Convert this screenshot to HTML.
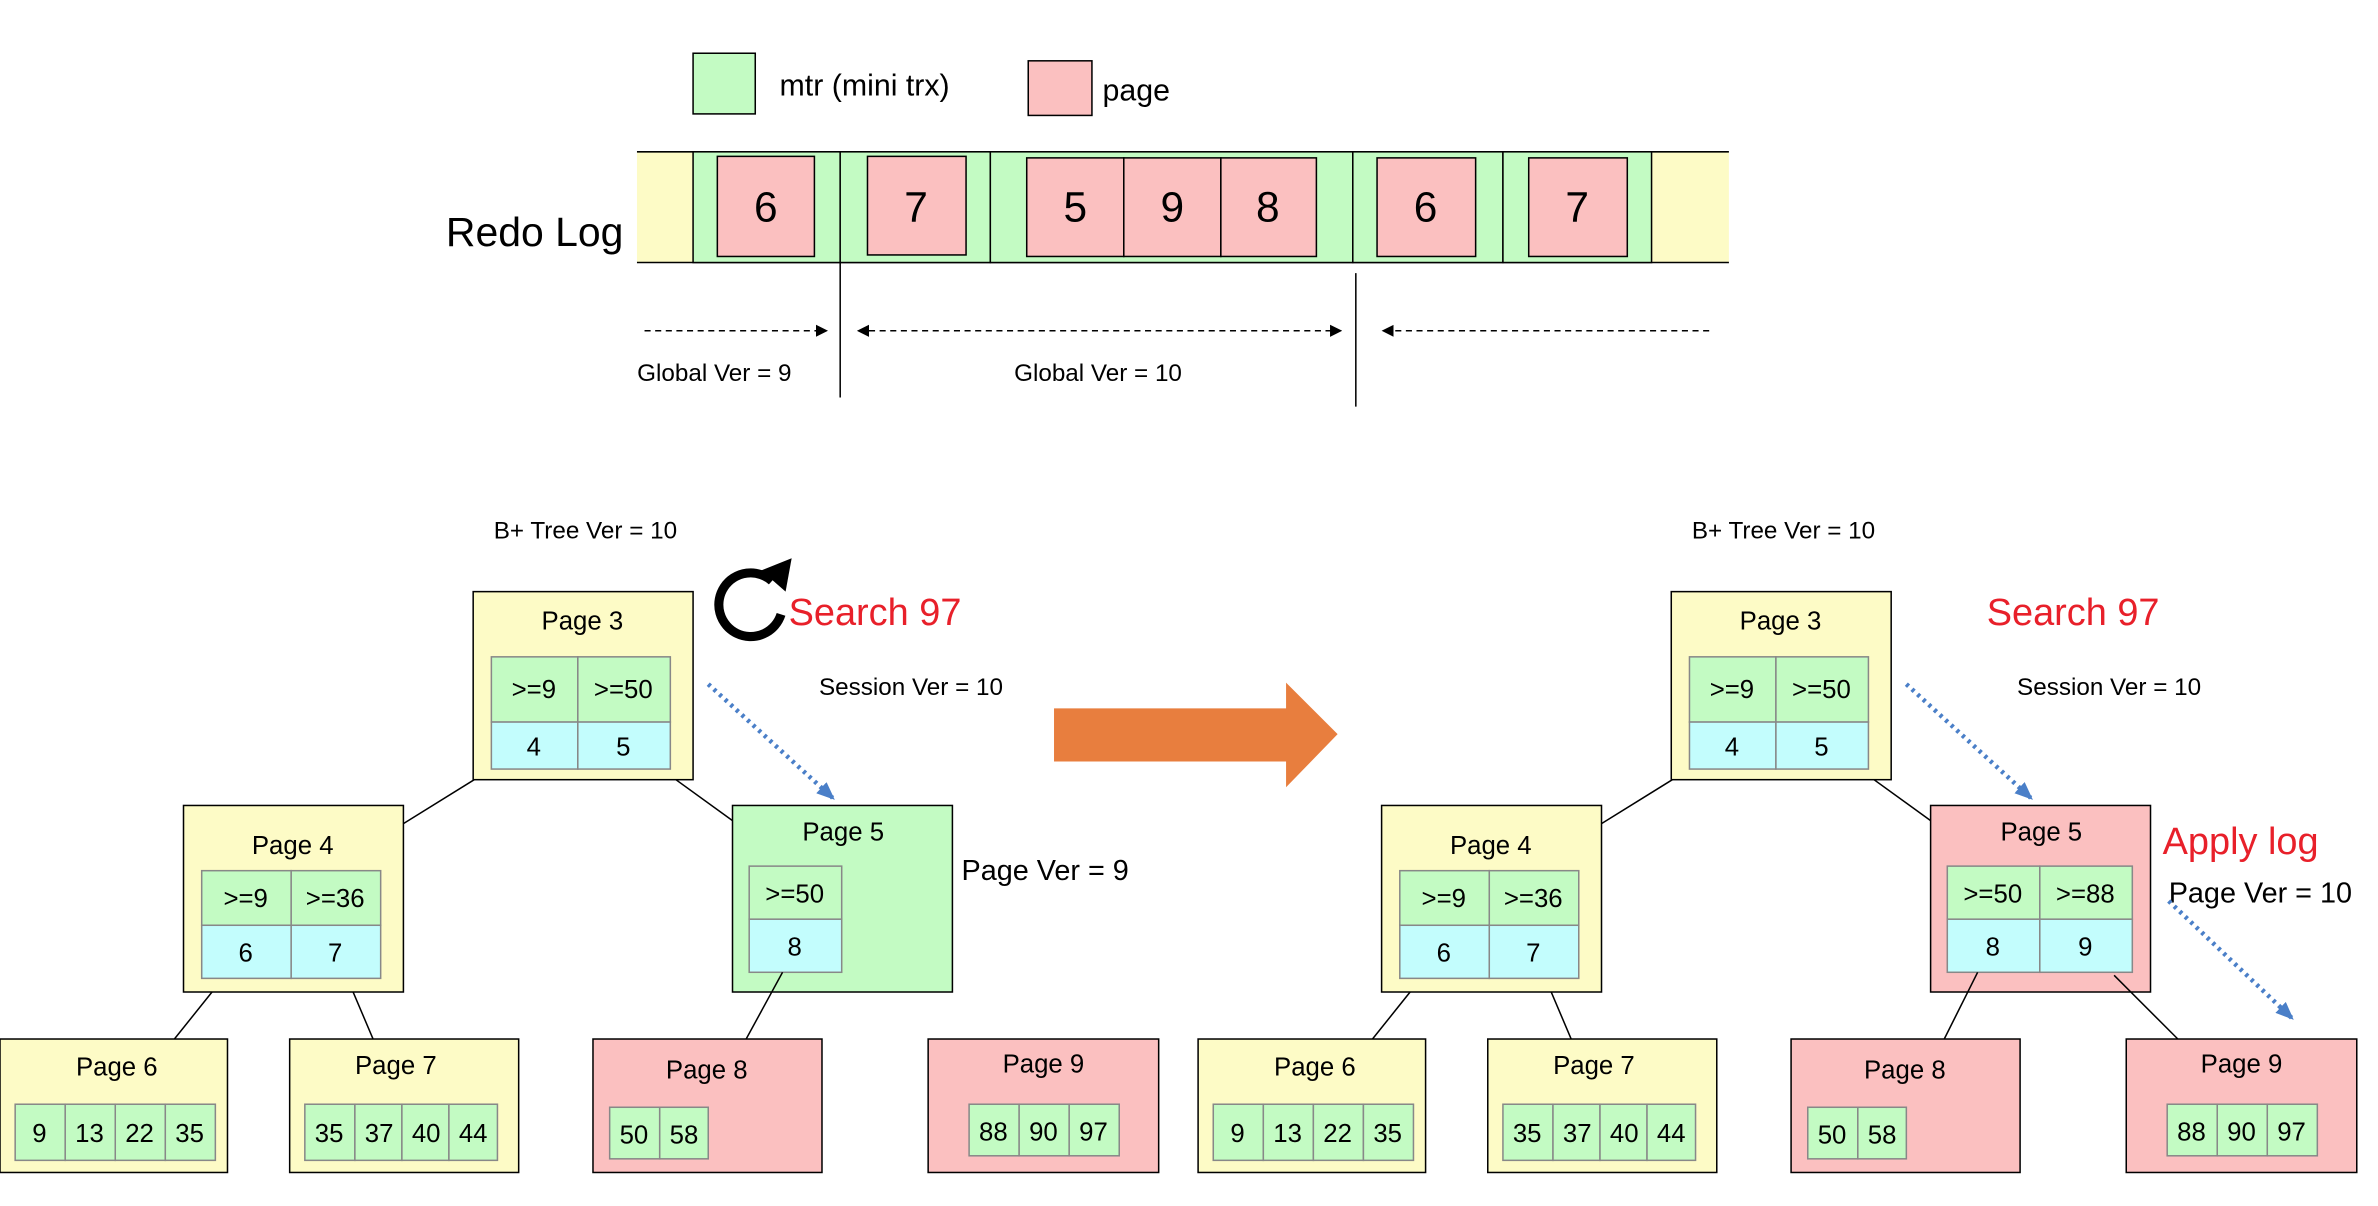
<!DOCTYPE html>
<html><head><meta charset="utf-8"><style>html,body{margin:0;padding:0;background:#fff}svg{display:block}text{font-family:"Liberation Sans",Arial,sans-serif}</style></head><body>
<svg width="2378" height="1206" viewBox="0 0 1568 795" xmlns="http://www.w3.org/2000/svg">
<defs>
<marker id="ah" markerWidth="8" markerHeight="8" refX="7" refY="4" orient="auto-start-reverse" markerUnits="userSpaceOnUse"><path d="M0,0 L8,4 L0,8 Z" fill="#000"/></marker>
<marker id="bh" markerWidth="12" markerHeight="10" refX="10" refY="5" orient="auto" markerUnits="userSpaceOnUse"><path d="M0,0 L12,5 L0,10 Z" fill="#4a7fc8"/></marker>
<g id="tree">
<text x="386" y="355" font-size="16" text-anchor="middle">B+ Tree Ver = 10</text>
<line x1="324" y1="507" x2="266" y2="543" stroke="#000"/>
<line x1="436" y1="507" x2="483" y2="541" stroke="#000"/>
<line x1="147" y1="645" x2="115" y2="685" stroke="#000"/>
<line x1="229" y1="645" x2="246" y2="685" stroke="#000"/>
<rect x="312" y="390" width="145" height="124" fill="#fdfbc6" stroke="#000"/>
<text x="384" y="415" font-size="17" text-anchor="middle">Page 3</text>
<rect x="324" y="433" width="57" height="43" fill="#c3fbc3" stroke="#888"/><rect x="381" y="433" width="61" height="43" fill="#c3fbc3" stroke="#888"/>
<rect x="324" y="476" width="57" height="31" fill="#c3fdfd" stroke="#888"/><rect x="381" y="476" width="61" height="31" fill="#c3fdfd" stroke="#888"/>
<text x="352" y="460" font-size="17" text-anchor="middle">&gt;=9</text><text x="411" y="460" font-size="17" text-anchor="middle">&gt;=50</text>
<text x="352" y="498" font-size="17" text-anchor="middle">4</text><text x="411" y="498" font-size="17" text-anchor="middle">5</text>
<text x="540" y="458" font-size="16">Session Ver = 10</text>
<rect x="121" y="531" width="145" height="123" fill="#fdfbc6" stroke="#000"/>
<text x="193" y="563" font-size="17" text-anchor="middle">Page 4</text>
<rect x="133" y="574" width="59" height="36" fill="#c3fbc3" stroke="#888"/><rect x="192" y="574" width="59" height="36" fill="#c3fbc3" stroke="#888"/>
<rect x="133" y="610" width="59" height="35" fill="#c3fdfd" stroke="#888"/><rect x="192" y="610" width="59" height="35" fill="#c3fdfd" stroke="#888"/>
<text x="162" y="598" font-size="17" text-anchor="middle">&gt;=9</text><text x="221" y="598" font-size="17" text-anchor="middle">&gt;=36</text>
<text x="162" y="634" font-size="17" text-anchor="middle">6</text><text x="221" y="634" font-size="17" text-anchor="middle">7</text>
<rect x="0" y="685" width="150" height="88" fill="#fdfbc6" stroke="#000"/>
<text x="77" y="709" font-size="17" text-anchor="middle">Page 6</text>
<g font-size="17" text-anchor="middle">
<rect x="10" y="728" width="33" height="37" fill="#c3fbc3" stroke="#888"/><rect x="43" y="728" width="33" height="37" fill="#c3fbc3" stroke="#888"/><rect x="76" y="728" width="33" height="37" fill="#c3fbc3" stroke="#888"/><rect x="109" y="728" width="33" height="37" fill="#c3fbc3" stroke="#888"/>
<text x="26" y="753">9</text><text x="59" y="753">13</text><text x="92" y="753">22</text><text x="125" y="753">35</text>
</g>
<rect x="191" y="685" width="151" height="88" fill="#fdfbc6" stroke="#000"/>
<text x="261" y="708" font-size="17" text-anchor="middle">Page 7</text>
<g font-size="17" text-anchor="middle">
<rect x="201" y="728" width="33" height="37" fill="#c3fbc3" stroke="#888"/><rect x="234" y="728" width="31" height="37" fill="#c3fbc3" stroke="#888"/><rect x="265" y="728" width="31" height="37" fill="#c3fbc3" stroke="#888"/><rect x="296" y="728" width="32" height="37" fill="#c3fbc3" stroke="#888"/>
<text x="217" y="753">35</text><text x="250" y="753">37</text><text x="281" y="753">40</text><text x="312" y="753">44</text>
</g>
<rect x="391" y="685" width="151" height="88" fill="#fbc0c0" stroke="#000"/>
<text x="466" y="711" font-size="17" text-anchor="middle">Page 8</text>
<rect x="402" y="730" width="33" height="34" fill="#c3fbc3" stroke="#888"/><rect x="435" y="730" width="32" height="34" fill="#c3fbc3" stroke="#888"/>
<text x="418" y="754" font-size="17" text-anchor="middle">50</text><text x="451" y="754" font-size="17" text-anchor="middle">58</text>
<rect x="612" y="685" width="152" height="88" fill="#fbc0c0" stroke="#000"/>
<text x="688" y="707" font-size="17" text-anchor="middle">Page 9</text>
<rect x="639" y="728" width="33" height="34" fill="#c3fbc3" stroke="#888"/><rect x="672" y="728" width="33" height="34" fill="#c3fbc3" stroke="#888"/><rect x="705" y="728" width="33" height="34" fill="#c3fbc3" stroke="#888"/>
<text x="655" y="752" font-size="17" text-anchor="middle">88</text><text x="688" y="752" font-size="17" text-anchor="middle">90</text><text x="721" y="752" font-size="17" text-anchor="middle">97</text>
<line x1="467" y1="451" x2="549" y2="526" stroke="#4a7fc8" stroke-width="3" stroke-dasharray="2,3" marker-end="url(#bh)"/>
</g>
</defs>

<rect x="457" y="35" width="41" height="40" fill="#c3fbc3" stroke="#000"/>
<text x="514" y="63" font-size="20">mtr (mini trx)</text>
<rect x="678" y="40" width="42" height="36" fill="#fbc0c0" stroke="#000"/>
<text x="727" y="66" font-size="20">page</text>

<rect x="420" y="100" width="720" height="73" fill="#fdfbc6"/>
<line x1="420" y1="100" x2="1140" y2="100" stroke="#000"/><line x1="420" y1="173" x2="1140" y2="173" stroke="#000"/>
<g fill="#c3fbc3" stroke="#000">
<rect x="457" y="100" width="97" height="73"/><rect x="554" y="100" width="99" height="73"/><rect x="653" y="100" width="239" height="73"/><rect x="892" y="100" width="99" height="73"/><rect x="991" y="100" width="98" height="73"/>
</g>
<g fill="#fbc0c0" stroke="#000">
<rect x="473" y="103" width="64" height="66"/><rect x="572" y="103" width="65" height="65"/><rect x="677" y="104" width="64" height="65"/><rect x="741" y="104" width="64" height="65"/><rect x="805" y="104" width="63" height="65"/><rect x="908" y="104" width="65" height="65"/><rect x="1008" y="104" width="65" height="65"/>
</g>
<g font-size="28" text-anchor="middle">
<text x="505" y="146">6</text><text x="604" y="146">7</text><text x="709" y="146">5</text><text x="773" y="146">9</text><text x="836" y="146">8</text><text x="940" y="146">6</text><text x="1040" y="146">7</text>
</g>
<text x="294" y="162" font-size="27">Redo Log</text>
<line x1="554" y1="173" x2="554" y2="262" stroke="#000"/>
<line x1="894" y1="180" x2="894" y2="268" stroke="#000"/>
<g stroke="#000" stroke-dasharray="4,3">
<line x1="425" y1="218" x2="545" y2="218" marker-end="url(#ah)"/>
<line x1="566" y1="218" x2="884" y2="218" marker-end="url(#ah)" marker-start="url(#ah)"/>
<line x1="1127" y1="218" x2="912" y2="218" marker-end="url(#ah)"/>
</g>
<text x="471" y="251" font-size="16" text-anchor="middle">Global Ver = 9</text>
<text x="724" y="251" font-size="16" text-anchor="middle">Global Ver = 10</text>

<use href="#tree"/>
<rect x="483" y="531" width="145" height="123" fill="#c3fbc3" stroke="#000"/>
<text x="556" y="554" font-size="17" text-anchor="middle">Page 5</text>
<rect x="494" y="571" width="61" height="35" fill="#c3fbc3" stroke="#888"/>
<rect x="494" y="606" width="61" height="35" fill="#c3fdfd" stroke="#888"/>
<text x="524" y="595" font-size="17" text-anchor="middle">&gt;=50</text>
<text x="524" y="630" font-size="17" text-anchor="middle">8</text>
<line x1="516" y1="641" x2="492" y2="685" stroke="#000"/>
<text x="634" y="580" font-size="19">Page Ver = 9</text>
<path d="M 509 383 A 21 21 0 1 0 515 405" fill="none" stroke="#000" stroke-width="6"/>
<path d="M 502 376 L 522 368 L 518 390 Z" fill="#000"/>
<text x="520" y="412" font-size="25" fill="#e8202a">Search 97</text>

<path d="M695,467 L848,467 L848,450 L882,484 L848,519 L848,502 L695,502 Z" fill="#e87e3e"/>

<use href="#tree" transform="translate(790,0)"/>
<rect x="1273" y="531" width="145" height="123" fill="#fbc0c0" stroke="#000"/>
<text x="1346" y="554" font-size="17" text-anchor="middle">Page 5</text>
<rect x="1284" y="571" width="61" height="35" fill="#c3fbc3" stroke="#888"/><rect x="1345" y="571" width="61" height="35" fill="#c3fbc3" stroke="#888"/>
<rect x="1284" y="606" width="61" height="35" fill="#c3fdfd" stroke="#888"/><rect x="1345" y="606" width="61" height="35" fill="#c3fdfd" stroke="#888"/>
<text x="1314" y="595" font-size="17" text-anchor="middle">&gt;=50</text><text x="1375" y="595" font-size="17" text-anchor="middle">&gt;=88</text>
<text x="1314" y="630" font-size="17" text-anchor="middle">8</text><text x="1375" y="630" font-size="17" text-anchor="middle">9</text>
<line x1="1304" y1="641" x2="1282" y2="685" stroke="#000"/>
<line x1="1394" y1="643" x2="1436" y2="685" stroke="#000"/>
<text x="1426" y="563" font-size="25" fill="#e8202a">Apply log</text>
<text x="1430" y="595" font-size="19">Page Ver = 10</text>
<line x1="1430" y1="594" x2="1511" y2="671" stroke="#4a7fc8" stroke-width="3" stroke-dasharray="2,3" marker-end="url(#bh)"/>
<text x="1310" y="412" font-size="25" fill="#e8202a">Search 97</text>
</svg>
</body></html>
